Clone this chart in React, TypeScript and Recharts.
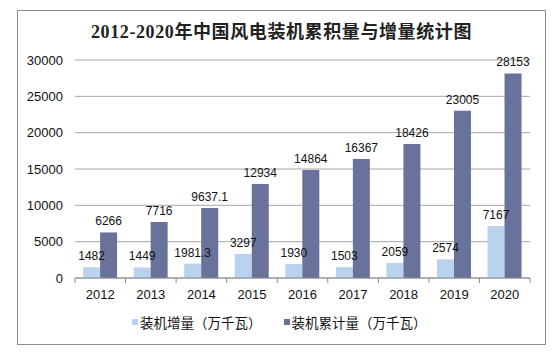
import React from "react";
import { Bar, BarChart, CartesianGrid, LabelList, XAxis, YAxis } from "recharts";

const years = ["2012", "2013", "2014", "2015", "2016", "2017", "2018", "2019", "2020"];
const added = [1482, 1449, 1981.3, 3297, 1930, 1503, 2059, 2574, 7167]; // 万千瓦
const total = [6266, 7716, 9637.1, 12934, 14864, 16367, 18426, 23005, 28153]; // 万千瓦
const yTicks = [0, 5000, 10000, 15000, 20000, 25000, 30000];

const LIGHT = "#B9D3EF";
const DARK = "#68729A";
const AXIS = "#8C8C8C";
const LATIN = '"Liberation Sans", Arial, sans-serif';
const CJK = '"Noto Sans CJK SC", sans-serif';

const rows = years.map((y, i) => ({ year: y, added: added[i], total: total[i] }));

function YearTick(props: any) {
  const { x, y, payload, index } = props;
  const half = payload.offset || 0;
  return (
    <g>
      <line x1={x - half} x2={x - half} y1={y} y2={y + 5} stroke={AXIS} />
      {index === years.length - 1 && <line x1={x + half} x2={x + half} y1={y} y2={y + 5} stroke={AXIS} />}
      <text x={x} y={y + 21} textAnchor="middle" fill="#111" fontFamily={LATIN} fontSize={13}>
        {payload.value}
      </text>
    </g>
  );
}

function LegendItem({ color, label }: { color: string; label: string }) {
  return (
    <span style={{ display: "inline-flex", alignItems: "center", marginRight: 22 }}>
      <span style={{ width: 6, height: 6, background: color, marginRight: 2, display: "inline-block" }} />
      <span>{label}</span>
    </span>
  );
}

export default function App() {
  return (
    <div style={{ position: "absolute", left: 0, top: 0, width: 559, height: 358, background: "#fff" }}>
      <div
        style={{
          position: "absolute",
          left: 17,
          top: 10,
          width: 529,
          height: 335,
          border: `1px solid ${AXIS}`,
          boxSizing: "border-box",
        }}
      />
      <div
        style={{
          position: "absolute",
          left: 0,
          top: 20,
          width: 563,
          textAlign: "center",
          fontFamily: `"Liberation Serif", ${CJK}`,
          fontWeight: "bold",
          fontSize: 18,
          letterSpacing: 0.6,
          color: "#222",
          lineHeight: "24px",
        }}
      >
        2012-2020年中国风电装机累积量与增量统计图
      </div>
      <div style={{ position: "absolute", left: 0, top: 0 }}>
        <BarChart
          width={559}
          height={358}
          data={rows}
          margin={{ top: 60, right: 29, left: 15, bottom: 50 }}
          barCategoryGap="16%"
          barGap={0}
        >
          <CartesianGrid vertical={false} stroke="#A6A6A6" />
          <XAxis
            dataKey="year"
            height={30}
            stroke={AXIS}
            tickLine={false}
            tickSize={0}
            tickMargin={0}
            tick={<YearTick />}
            interval={0}
          />
          <YAxis
            width={60}
            domain={[0, 30000]}
            ticks={yTicks}
            axisLine={false}
            tickLine={false}
            tickSize={0}
            tickMargin={12}
            tick={{ fill: "#111", fontFamily: LATIN, fontSize: 13 }}
          />
          <Bar dataKey="added" fill={LIGHT} isAnimationActive={false}>
            <LabelList dataKey="added" position="top" offset={7} fill="#111" fontFamily={LATIN} fontSize={12} />
          </Bar>
          <Bar dataKey="total" fill={DARK} isAnimationActive={false}>
            <LabelList dataKey="total" position="top" offset={7} fill="#111" fontFamily={LATIN} fontSize={12} />
          </Bar>
        </BarChart>
      </div>
      <div
        style={{
          position: "absolute",
          left: 132,
          top: 312,
          fontFamily: CJK,
          fontSize: 13.5,
          color: "#111",
          whiteSpace: "nowrap",
          display: "flex",
        }}
      >
        <LegendItem color={LIGHT} label="装机增量（万千瓦）" />
        <LegendItem color={DARK} label="装机累计量（万千瓦）" />
      </div>
    </div>
  );
}
